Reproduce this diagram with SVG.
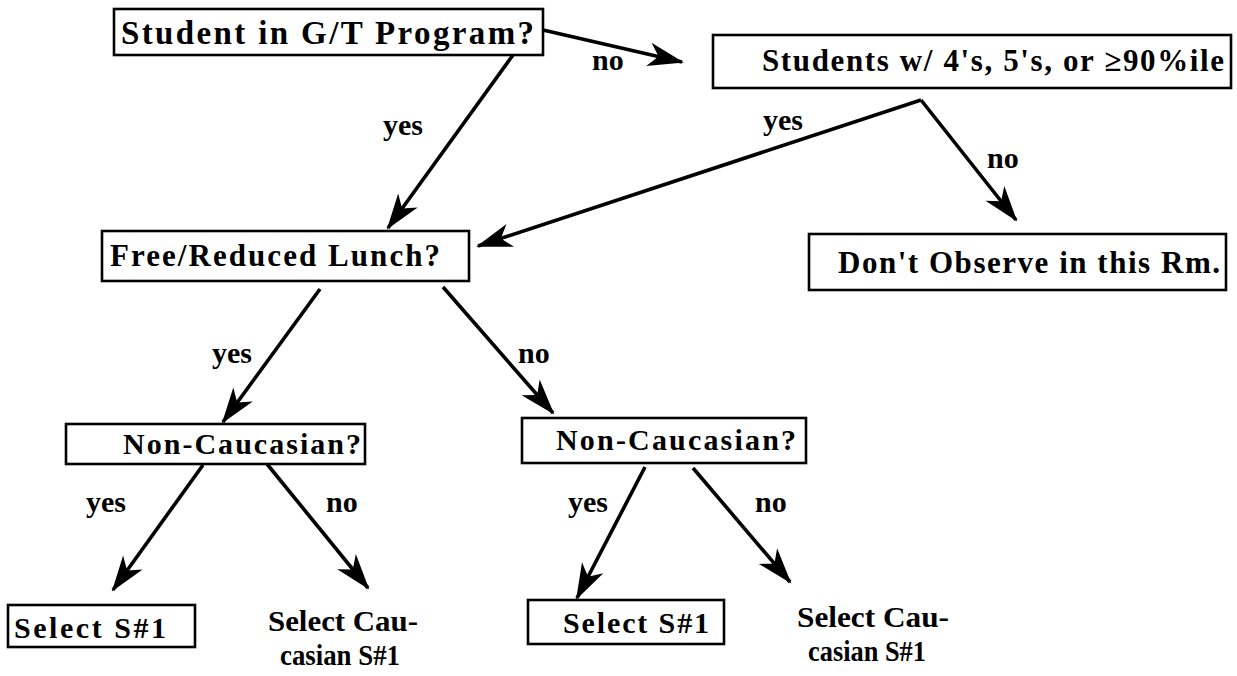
<svg xmlns="http://www.w3.org/2000/svg" width="1237" height="676" viewBox="0 0 1237 676">
<style>
.box{fill:#fff;stroke:#000;stroke-width:2.6}
.t{font-family:"Liberation Serif","Times New Roman",serif;font-weight:bold;fill:#000}
.lbl{font-family:"Liberation Serif","Times New Roman",serif;font-weight:bold;font-size:30px;fill:#000}
.c{stroke:#000;stroke-width:3.6;fill:none;marker-end:url(#ah)}
</style>
<defs>
<marker id="ah" markerUnits="userSpaceOnUse" orient="auto" overflow="visible" refX="0" refY="0" markerWidth="40" markerHeight="30">
<path d="M2,0 L-34,-12 L-24,0 L-34,12 Z" fill="#000"/>
</marker>
</defs>
<rect width="1237" height="676" fill="#fff"/>
<g id="connectors">
<line class="c" x1="543" y1="30" x2="682" y2="62"/>
<line class="c" x1="513" y1="55" x2="388" y2="228"/>
<line class="c" x1="921" y1="100" x2="478" y2="246"/>
<line class="c" x1="921" y1="100" x2="1016" y2="220"/>
<line class="c" x1="320" y1="289" x2="223" y2="422"/>
<line class="c" x1="443" y1="287" x2="553" y2="413"/>
<line class="c" x1="203" y1="465" x2="113" y2="590"/>
<line class="c" x1="267" y1="464" x2="368" y2="588"/>
<line class="c" x1="645" y1="467" x2="577" y2="598"/>
<line class="c" x1="693" y1="468" x2="790" y2="582"/>
<text class="lbl" x="592" y="70">no</text>
<text class="lbl" x="383" y="135">yes</text>
<text class="lbl" x="763" y="130">yes</text>
<text class="lbl" x="987" y="168">no</text>
<text class="lbl" x="212" y="363">yes</text>
<text class="lbl" x="518" y="363">no</text>
<text class="lbl" x="86" y="512">yes</text>
<text class="lbl" x="326" y="512">no</text>
<text class="lbl" x="568" y="512">yes</text>
<text class="lbl" x="755" y="512">no</text>
</g>
<g id="gt">
<rect class="box" x="114" y="9" width="429" height="46"/>
<text class="t" x="121" y="44" font-size="33" textLength="413" lengthAdjust="spacing">Student in G/T Program?</text>
</g>
<g id="students">
<rect class="box" x="713" y="35" width="518" height="53"/>
<text class="t" x="762" y="71" font-size="31" textLength="462" lengthAdjust="spacing">Students w/ 4's, 5's, or ≥90%ile</text>
</g>
<g id="dontobserve">
<rect class="box" x="809" y="234" width="417" height="56"/>
<text class="t" x="838" y="273" font-size="31" textLength="382" lengthAdjust="spacing">Don't Observe in this Rm.</text>
</g>
<g id="lunch">
<rect class="box" x="102" y="231" width="367" height="50"/>
<text class="t" x="110" y="266" font-size="31" textLength="330" lengthAdjust="spacing">Free/Reduced Lunch?</text>
</g>
<g id="noncauc1">
<rect class="box" x="66" y="424" width="299" height="40"/>
<text class="t" x="123" y="454" font-size="30" textLength="238" lengthAdjust="spacing">Non-Caucasian?</text>
</g>
<g id="noncauc2">
<rect class="box" x="522" y="418" width="284" height="45"/>
<text class="t" x="556" y="450" font-size="30" textLength="240" lengthAdjust="spacing">Non-Caucasian?</text>
</g>
<g id="select1">
<rect class="box" x="8" y="605" width="187" height="42"/>
<text class="t" x="14" y="638" font-size="30" textLength="152" lengthAdjust="spacing">Select S#1</text>
</g>
<g id="select2">
<rect class="box" x="528" y="600" width="196" height="44"/>
<text class="t" x="563" y="633" font-size="30" textLength="146" lengthAdjust="spacing">Select S#1</text>
</g>
<g id="selectcauc1">
<text class="t" x="268" y="631" font-size="29" textLength="150" lengthAdjust="spacingAndGlyphs">Select Cau-</text>
<text class="t" x="280" y="665" font-size="29" textLength="120" lengthAdjust="spacingAndGlyphs">casian S#1</text>
</g>
<g id="selectcauc2">
<text class="t" x="797" y="627" font-size="29" textLength="152" lengthAdjust="spacingAndGlyphs">Select Cau-</text>
<text class="t" x="808" y="661" font-size="29" textLength="118" lengthAdjust="spacingAndGlyphs">casian S#1</text>
</g>
</svg>
